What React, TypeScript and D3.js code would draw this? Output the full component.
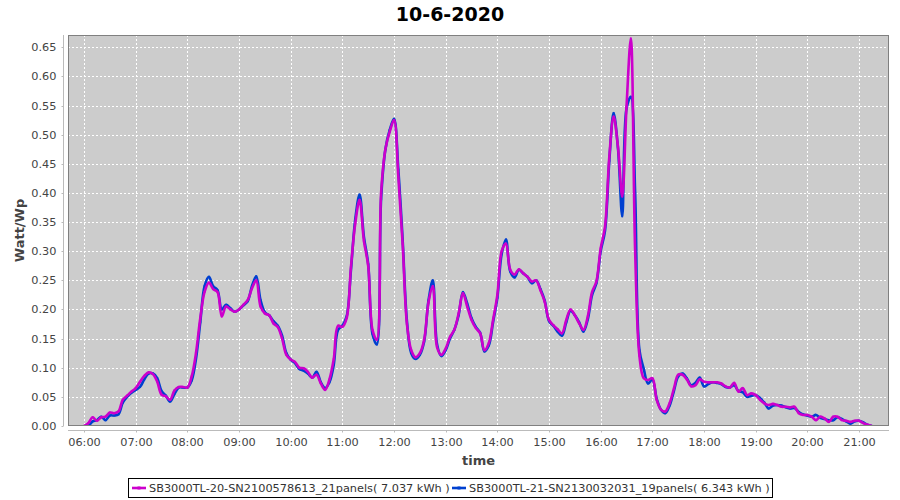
import React from "react";
import * as d3 from "d3";

// 5-minute samples starting at 06:00, one row per hour
const startTime = "06:00";
const stepMinutes = 5;

const seriesNames = [
  "SB3000TL-20-SN2100578613_21panels( 7.037 kWh )",
  "SB3000TL-21-SN2130032031_19panels( 6.343 kWh )",
];

const inverter20 = [
  0.000, 0.005, 0.015, 0.009, 0.015, 0.016, 0.023, 0.022, 0.025, 0.045, 0.052, 0.059,
  0.065, 0.076, 0.086, 0.092, 0.089, 0.076, 0.054, 0.051, 0.045, 0.061, 0.067, 0.067,
  0.066, 0.085, 0.125, 0.185, 0.230, 0.246, 0.235, 0.230, 0.188, 0.205, 0.200, 0.196,
  0.200, 0.208, 0.216, 0.236, 0.250, 0.205, 0.193, 0.190, 0.176, 0.170, 0.150, 0.122,
  0.114, 0.110, 0.100, 0.099, 0.093, 0.083, 0.088, 0.073, 0.062, 0.080, 0.115, 0.172,
  0.170, 0.185, 0.273, 0.348, 0.388, 0.318, 0.275, 0.165, 0.148, 0.400, 0.475, 0.505,
  0.525, 0.428, 0.313, 0.175, 0.130, 0.118, 0.125, 0.148, 0.212, 0.240, 0.135, 0.122,
  0.133, 0.153, 0.165, 0.193, 0.228, 0.205, 0.182, 0.168, 0.159, 0.130, 0.142, 0.182,
  0.225, 0.300, 0.313, 0.268, 0.260, 0.269, 0.262, 0.256, 0.248, 0.250, 0.233, 0.213,
  0.182, 0.173, 0.166, 0.159, 0.182, 0.200, 0.190, 0.176, 0.165, 0.188, 0.230, 0.248,
  0.305, 0.342, 0.462, 0.531, 0.480, 0.394, 0.548, 0.665, 0.300, 0.120, 0.082, 0.079,
  0.082, 0.045, 0.028, 0.025, 0.039, 0.064, 0.088, 0.088, 0.080, 0.068, 0.070, 0.080,
  0.076, 0.075, 0.075, 0.075, 0.073, 0.068, 0.066, 0.074, 0.059, 0.065, 0.053, 0.056,
  0.053, 0.045, 0.039, 0.036, 0.038, 0.036, 0.033, 0.033, 0.032, 0.033, 0.022, 0.019,
  0.019, 0.016, 0.010, 0.016, 0.013, 0.007, 0.016, 0.016, 0.010, 0.009, 0.007, 0.009,
  0.009, 0.005, 0.002, 0.000,
];

const inverter21 = [
  0.000, 0.000, 0.008, 0.010, 0.016, 0.010, 0.018, 0.018, 0.020, 0.040, 0.050, 0.057,
  0.062, 0.067, 0.080, 0.090, 0.090, 0.082, 0.060, 0.052, 0.042, 0.055, 0.066, 0.066,
  0.066, 0.078, 0.115, 0.178, 0.240, 0.256, 0.240, 0.233, 0.200, 0.208, 0.202, 0.196,
  0.200, 0.207, 0.214, 0.240, 0.257, 0.216, 0.195, 0.190, 0.180, 0.172, 0.155, 0.125,
  0.114, 0.108, 0.098, 0.095, 0.090, 0.083, 0.093, 0.075, 0.065, 0.075, 0.105, 0.165,
  0.172, 0.188, 0.268, 0.355, 0.397, 0.325, 0.278, 0.158, 0.140, 0.390, 0.475, 0.508,
  0.527, 0.440, 0.320, 0.180, 0.125, 0.115, 0.122, 0.145, 0.215, 0.250, 0.140, 0.120,
  0.130, 0.150, 0.165, 0.190, 0.230, 0.210, 0.185, 0.170, 0.160, 0.128, 0.138, 0.178,
  0.220, 0.295, 0.320, 0.265, 0.255, 0.268, 0.262, 0.256, 0.245, 0.250, 0.235, 0.215,
  0.180, 0.172, 0.162, 0.155, 0.178, 0.198, 0.190, 0.178, 0.162, 0.183, 0.225, 0.245,
  0.300, 0.335, 0.455, 0.537, 0.478, 0.360, 0.545, 0.565, 0.400, 0.130, 0.098, 0.073,
  0.080, 0.047, 0.028, 0.022, 0.035, 0.060, 0.085, 0.090, 0.082, 0.070, 0.074, 0.083,
  0.068, 0.072, 0.075, 0.074, 0.072, 0.067, 0.066, 0.070, 0.060, 0.058, 0.050, 0.052,
  0.053, 0.048, 0.040, 0.030, 0.035, 0.036, 0.035, 0.032, 0.030, 0.031, 0.024, 0.020,
  0.018, 0.016, 0.019, 0.014, 0.012, 0.010, 0.010, 0.015, 0.012, 0.008, 0.004, 0.008,
  0.009, 0.006, 0.002, 0.000,
];

const yTicks = [0, 0.05, 0.1, 0.15, 0.2, 0.25, 0.3, 0.35, 0.4, 0.45, 0.5, 0.55, 0.6, 0.65];
const xTickLabels = [
  "06:00", "07:00", "08:00", "09:00", "10:00", "11:00", "12:00", "13:00",
  "14:00", "15:00", "16:00", "17:00", "18:00", "19:00", "20:00", "21:00",
];

const colors = ["#cc00cc", "#0040d0"];
const font = "DejaVu Sans";
const parseTime = d3.timeParse("%H:%M:%S");
const parseHM = d3.timeParse("%H:%M");

export default function App() {
  const width = 900;
  const height = 500;
  const plot = { left: 68, right: 889, top: 35, bottom: 426 };

  const t0 = parseHM(startTime) as Date;
  const times = inverter20.map((_, i) => d3.timeMinute.offset(t0, i * stepMinutes));

  const x = d3
    .scaleTime()
    .domain([parseTime("05:41:24") as Date, parseTime("21:34:48") as Date])
    .range([plot.left, plot.right]);

  const y = d3.scaleLinear().domain([0, 0.671]).range([plot.bottom, plot.top]);

  const line = d3
    .line<number>()
    .x((_, i) => x(times[i]))
    .y((d) => y(d))
    .curve(d3.curveCatmullRom.alpha(0.5));

  const series = [inverter20, inverter21];
  const axisY = plot.bottom + 4.5;
  const axisX = plot.left - 4.5;

  return (
    <svg
      width={width}
      height={height}
      style={{ position: "fixed", left: 0, top: 0, background: "#fff" }}
      fontFamily={font}
    >
      <text x={450} y={21} textAnchor="middle" fontSize={19} fontWeight="bold" fill="#000">
        10-6-2020
      </text>

      <defs>
        <clipPath id="plot-clip">
          <rect x={plot.left} y={plot.top} width={plot.right - plot.left} height={plot.bottom - plot.top} />
        </clipPath>
      </defs>

      <rect
        x={plot.left}
        y={plot.top}
        width={plot.right - plot.left}
        height={plot.bottom - plot.top}
        fill="#cccccc"
      />

      {/* grid */}
      <g stroke="#ffffff" strokeWidth={1} strokeDasharray="2,2">
        {yTicks.map((t) => (
          <line key={"gy" + t} x1={plot.left} x2={plot.right} y1={Math.round(y(t)) + 0.5} y2={Math.round(y(t)) + 0.5} />
        ))}
        {xTickLabels.map((l) => {
          const px = Math.round(x(parseHM(l) as Date)) + 0.5;
          return <line key={"gx" + l} x1={px} x2={px} y1={plot.top} y2={plot.bottom} />;
        })}
      </g>

      {/* lines, first series on top */}
      <g clipPath="url(#plot-clip)" fill="none">
        {series
          .map((s, i) => ({ s, i }))
          .reverse()
          .map(({ s, i }) => (
            <g key={i}>
              <path d={line(s) ?? ""} stroke={colors[i]} strokeWidth={2.6} strokeLinejoin="round" />
              {s.map((v, j) => (
                <rect key={j} x={x(times[j]) - 1} y={y(v) - 1} width={2} height={2} fill={colors[i]} opacity={0.8} />
              ))}
            </g>
          ))}
      </g>

      <rect
        x={plot.left + 0.5}
        y={plot.top + 0.5}
        width={plot.right - plot.left - 1}
        height={plot.bottom - plot.top - 1}
        fill="none"
        stroke="#808080"
      />

      {/* y axis */}
      <g fontSize={11.3} fill="#444">
        <line x1={axisX} x2={axisX} y1={plot.top} y2={plot.bottom} stroke="#bbbbbb" />
        {yTicks.map((t) => (
          <g key={"ty" + t}>
            <line x1={axisX - 2} x2={axisX} y1={Math.round(y(t)) + 0.5} y2={Math.round(y(t)) + 0.5} stroke="#bbbbbb" />
            <text x={axisX - 7} y={y(t) + 4} textAnchor="end">
              {d3.format(".2f")(t)}
            </text>
          </g>
        ))}
      </g>

      {/* x axis */}
      <g fontSize={11.3} fill="#444">
        <line x1={plot.left} x2={plot.right} y1={axisY} y2={axisY} stroke="#bbbbbb" />
        {xTickLabels.map((l) => {
          const px = Math.round(x(parseHM(l) as Date)) + 0.5;
          return (
            <g key={"tx" + l}>
              <line x1={px} x2={px} y1={axisY} y2={axisY + 2} stroke="#bbbbbb" />
              <text x={px} y={446} textAnchor="middle">
                {l}
              </text>
            </g>
          );
        })}
      </g>

      <text x={(plot.left + plot.right) / 2} y={465} textAnchor="middle" fontSize={13} fontWeight="bold" fill="#444">
        time
      </text>
      <text
        transform={`translate(24,${(plot.top + plot.bottom) / 2}) rotate(-90)`}
        textAnchor="middle"
        fontSize={13}
        fontWeight="bold"
        fill="#444"
      >
        Watt/Wp
      </text>

      {/* legend */}
      <rect x={128.5} y={478.5} width={644} height={19} fill="#fff" stroke="#000" />
      {seriesNames.map((name, i) => {
        const lx = i === 0 ? 132 : 452;
        return (
          <g key={name}>
            <line x1={lx} x2={lx + 14} y1={488} y2={488} stroke={colors[i]} strokeWidth={2.6} />
            <rect x={lx + 5.5} y={486.5} width={3} height={3} fill={colors[i]} />
            <text x={lx + 17} y={492} fontSize={11.3} fill="#333">
              {name}
            </text>
          </g>
        );
      })}
    </svg>
  );
}
